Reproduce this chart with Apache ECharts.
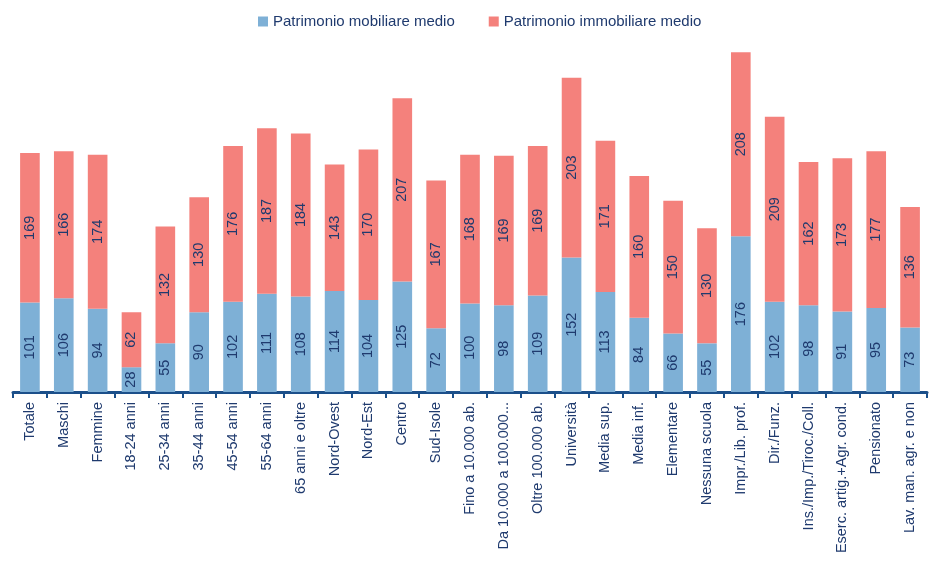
<!DOCTYPE html>
<html>
<head>
<meta charset="utf-8">
<script src="https://cdn.jsdelivr.net/npm/echarts@6/dist/echarts.min.js"></script>
<style>
html, body { margin: 0; padding: 0; background: #fff; }
#chart { width: 930px; height: 561px; }
</style>
</head>
<body>
<div id="chart"></div>
<script>
// categorie
const categories = ['Totale', 'Maschi', 'Femmine', '18-24 anni', '25-34 anni', '35-44 anni',
    '45-54 anni', '55-64 anni', '65 anni e oltre', 'Nord-Ovest', 'Nord-Est', 'Centro',
    'Sud-Isole', 'Fino a 10.000 ab.', 'Da 10.000 a 100.000...', 'Oltre 100.000 ab.',
    'Università', 'Media sup.', 'Media inf.', 'Elementare', 'Nessuna scuola',
    'Impr./Lib. prof.', 'Dir./Funz.', 'Ins./Imp./Tiroc./Coll.', 'Eserc. artig.+Agr. cond.',
    'Pensionato', 'Lav. man. agr. e non'];

const mobiliare = [101, 106, 94, 28, 55, 90, 102, 111, 108, 114, 104, 125, 72, 100, 98, 109,
    152, 113, 84, 66, 55, 176, 102, 98, 91, 95, 73];
const immobiliare = [169, 166, 174, 62, 132, 130, 176, 187, 184, 143, 170, 207, 167, 168, 169, 169,
    203, 171, 160, 150, 130, 208, 209, 162, 173, 177, 136];

const navy = '#1F3A6E';
const font = 'Liberation Sans, Arial, sans-serif';

let myChart = echarts.init(document.getElementById('chart'));

const barLabel = {
    show: true,
    position: 'inside',
    rotate: 90,
    color: navy,
    fontSize: 14.5,
    fontFamily: font
};

const option = {
    animation: false,
    legend: {
        top: 9,
        left: 253,
        itemWidth: 10,
        itemHeight: 10,
        itemGap: 34,
        icon: 'rect',
        textStyle: { color: navy, fontSize: 15, fontFamily: font }
    },
    grid: { left: 13, right: 3, top: 38, bottom: 169 },
    xAxis: {
        type: 'category',
        data: categories,
        axisLine: { lineStyle: { color: '#1B4F8A', width: 3 } },
        axisTick: { show: true, length: 6, lineStyle: { color: '#1B4F8A', width: 2 } },
        axisLabel: {
            interval: 0,
            rotate: 90,
            color: navy,
            fontSize: 14.5,
            fontFamily: font,
            margin: 10
        }
    },
    yAxis: {
        type: 'value',
        min: 0,
        max: 400,
        show: false,
        splitLine: { show: false }
    },
    series: [
        {
            name: 'Patrimonio mobiliare medio',
            type: 'bar',
            stack: 'tot',
            barWidth: '58%',
            itemStyle: { color: '#7EB0D6' },
            label: barLabel,
            data: mobiliare
        },
        {
            name: 'Patrimonio immobiliare medio',
            type: 'bar',
            stack: 'tot',
            barWidth: '58%',
            itemStyle: { color: '#F4817C' },
            label: barLabel,
            data: immobiliare
        }
    ]
};

myChart.setOption(option);
</script>
</body>
</html>
